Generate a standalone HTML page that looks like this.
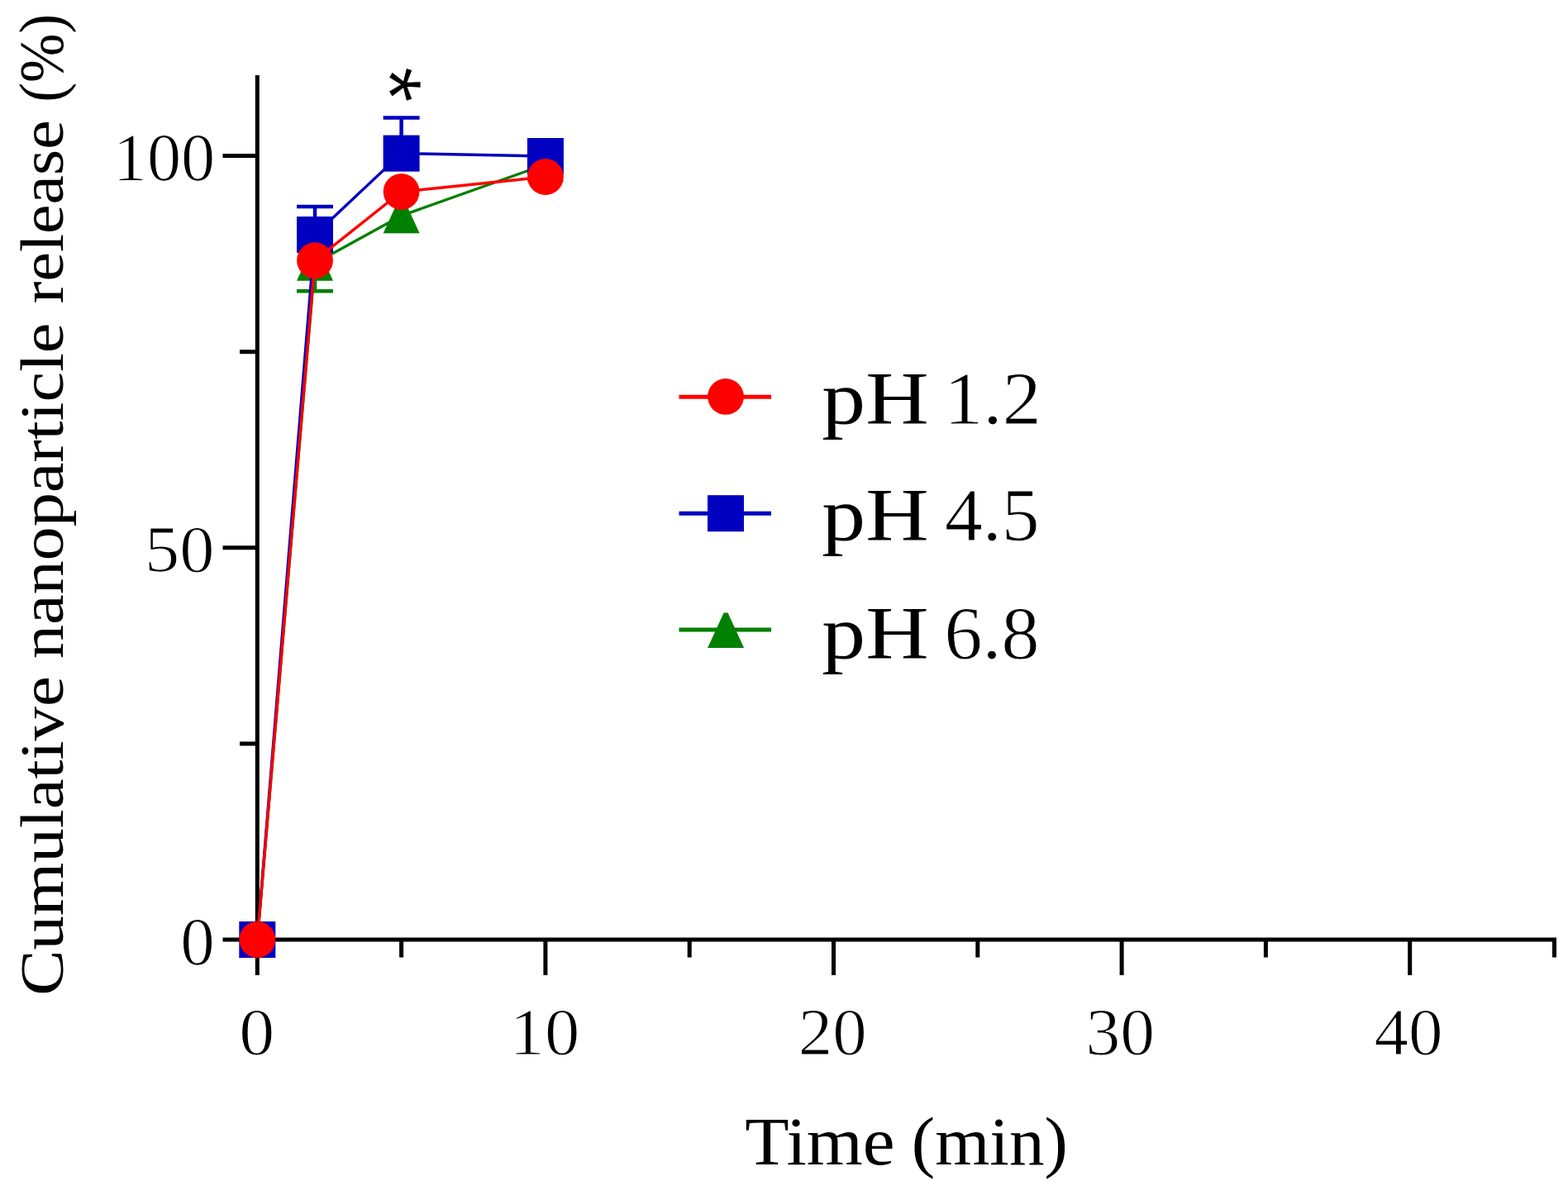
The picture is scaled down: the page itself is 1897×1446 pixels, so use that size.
<!DOCTYPE html>
<html><head><meta charset="utf-8"><title>Cumulative nanoparticle release</title><style>html,body{margin:0;padding:0;background:#fff;}svg{display:block;}</style></head><body>
<svg width="1897" height="1446" viewBox="0 0 1897 1446">
<rect width="1897" height="1446" fill="#fff"/>
<g font-family="Liberation Serif, serif" font-size="100" fill="#000">
<text transform="translate(136.76,217.78) scale(0.8237,0.8182)" stroke="#fff" stroke-width="1.4">100</text>
<text transform="translate(175.09,691.99) scale(0.8443,0.8061)" stroke="#fff" stroke-width="1.4">50</text>
<text transform="translate(218.25,1167.38) scale(0.8300,0.8212)" stroke="#fff" stroke-width="1.4">0</text>
<text transform="translate(289.30,1276.49) scale(0.8600,0.8136)" stroke="#fff" stroke-width="1.4">0</text>
<text transform="translate(616.53,1276.49) scale(0.8471,0.8136)" stroke="#fff" stroke-width="1.4">10</text>
<text transform="translate(965.86,1276.49) scale(0.8289,0.8136)" stroke="#fff" stroke-width="1.4">20</text>
<text transform="translate(1313.48,1276.49) scale(0.8371,0.8136)" stroke="#fff" stroke-width="1.4">30</text>
<text transform="translate(1662.51,1276.49) scale(0.8315,0.8136)" stroke="#fff" stroke-width="1.4">40</text>
<text transform="translate(901.15,1408.90) scale(0.8743,0.8300)">Time</text>
<text transform="translate(1102.80,1408.90) scale(0.8509,0.8200)">(min)</text>
<text transform="translate(76.40,1204.81) rotate(-90) scale(0.8285,0.7300)">Cumulative</text>
<text transform="translate(76.40,797.25) rotate(-90) scale(0.8227,0.7300)">nanoparticle</text>
<text transform="translate(76.40,367.20) rotate(-90) scale(0.7996,0.7300)">release</text>
<text transform="translate(76.40,123.65) rotate(-90) scale(0.7135,0.7580)">(%)</text>
<text transform="translate(994.28,512.60) scale(1.0581,0.9090)">pH</text>
<text transform="translate(1142.36,512.60) scale(0.9373,0.9090)" stroke="#fff" stroke-width="1.0">1.2</text>
<text transform="translate(994.28,654.00) scale(1.0581,0.9090)">pH</text>
<text transform="translate(1143.05,654.00) scale(0.9161,0.9090)" stroke="#fff" stroke-width="1.0">4.5</text>
<text transform="translate(994.28,796.60) scale(1.0581,0.9090)">pH</text>
<text transform="translate(1142.60,796.60) scale(0.9198,0.9090)" stroke="#fff" stroke-width="1.0">6.8</text>
</g>
<text transform="translate(491.0,101.8) rotate(90) scale(1.12,1.1) translate(-19,52)" font-family="Liberation Sans, sans-serif" font-size="100" fill="#000" stroke="#fff" stroke-width="0.7">*</text>
<g stroke="#000" stroke-width="5" stroke-linecap="butt" fill="none">
<line x1="311.3" y1="91" x2="311.3" y2="1139.5"/>
<line x1="308.8" y1="1137" x2="1883" y2="1137"/>
<line x1="269.5" y1="1137.0" x2="311.3" y2="1137.0"/>
<line x1="290" y1="899.9" x2="311.3" y2="899.9"/>
<line x1="269.5" y1="662.8" x2="311.3" y2="662.8"/>
<line x1="290" y1="425.7" x2="311.3" y2="425.7"/>
<line x1="269.5" y1="188.6" x2="311.3" y2="188.6"/>
<line x1="311.3" y1="1137" x2="311.3" y2="1180"/>
<line x1="485.6" y1="1137" x2="485.6" y2="1158.5"/>
<line x1="659.9" y1="1137" x2="659.9" y2="1180"/>
<line x1="834.2" y1="1137" x2="834.2" y2="1158.5"/>
<line x1="1008.5" y1="1137" x2="1008.5" y2="1180"/>
<line x1="1182.8" y1="1137" x2="1182.8" y2="1158.5"/>
<line x1="1357.1" y1="1137" x2="1357.1" y2="1180"/>
<line x1="1531.4" y1="1137" x2="1531.4" y2="1158.5"/>
<line x1="1705.7" y1="1137" x2="1705.7" y2="1180"/>
<line x1="1880.5" y1="1137" x2="1880.5" y2="1158.5"/>
</g>
<polyline points="311.3,1137.0 381.0,318.5 485.6,261.0 659.9,199.0" fill="none" stroke="#008000" stroke-width="3.4" stroke-linejoin="miter"/>
<line x1="381.0" y1="318.0" x2="381.0" y2="352.3" stroke="#008000" stroke-width="4.5"/><line x1="359.0" y1="352.3" x2="403.0" y2="352.3" stroke="#008000" stroke-width="4.5"/>
<polygon points="308.8,1115.8 313.8,1115.8 333.3,1158.2 289.3,1158.2" fill="#008000"/>
<polygon points="378.5,297.2 383.5,297.2 403.0,339.8 359.0,339.8" fill="#008000"/>
<polygon points="483.1,239.8 488.1,239.8 507.6,282.2 463.6,282.2" fill="#008000"/>
<polygon points="657.4,177.8 662.4,177.8 681.9,220.2 637.9,220.2" fill="#008000"/>
<polyline points="311.3,1137.0 381.0,284.0 485.6,185.6 659.9,189.0" fill="none" stroke="#0000c0" stroke-width="3.4" stroke-linejoin="miter"/>
<line x1="381.0" y1="283.5" x2="381.0" y2="250.0" stroke="#0000c0" stroke-width="4.5"/><line x1="359.0" y1="250.0" x2="403.0" y2="250.0" stroke="#0000c0" stroke-width="4.5"/>
<line x1="485.6" y1="185.6" x2="485.6" y2="142.5" stroke="#0000c0" stroke-width="4.5"/><line x1="463.6" y1="142.5" x2="507.6" y2="142.5" stroke="#0000c0" stroke-width="4.5"/>
<rect x="289.3" y="1115.0" width="44" height="44" fill="#0000c0"/>
<rect x="359.0" y="262.0" width="44" height="44" fill="#0000c0"/>
<rect x="463.6" y="163.6" width="44" height="44" fill="#0000c0"/>
<rect x="637.9" y="167.0" width="44" height="44" fill="#0000c0"/>
<polyline points="311.3,1137.0 381.0,315.2 485.6,232.0 659.9,214.0" fill="none" stroke="#ff0000" stroke-width="3.4" stroke-linejoin="miter"/>
<circle cx="311.3" cy="1137.0" r="21.9" fill="#ff0000"/>
<circle cx="381.0" cy="315.2" r="21.9" fill="#ff0000"/>
<circle cx="485.6" cy="232.0" r="21.9" fill="#ff0000"/>
<circle cx="659.9" cy="214.0" r="21.9" fill="#ff0000"/>
<line x1="821.5" y1="480.2" x2="933" y2="480.2" stroke="#ff0000" stroke-width="5"/>
<circle cx="878.0" cy="479.9" r="21.9" fill="#ff0000"/>
<line x1="821.5" y1="621.2" x2="933" y2="621.2" stroke="#0000c0" stroke-width="5"/>
<rect x="856.0" y="599.2" width="44" height="44" fill="#0000c0"/>
<line x1="821.5" y1="762" x2="933" y2="762" stroke="#008000" stroke-width="5"/>
<polygon points="875.6,741.6 880.6,741.6 900.1,784.1 856.1,784.1" fill="#008000"/>
</svg>
</body></html>
